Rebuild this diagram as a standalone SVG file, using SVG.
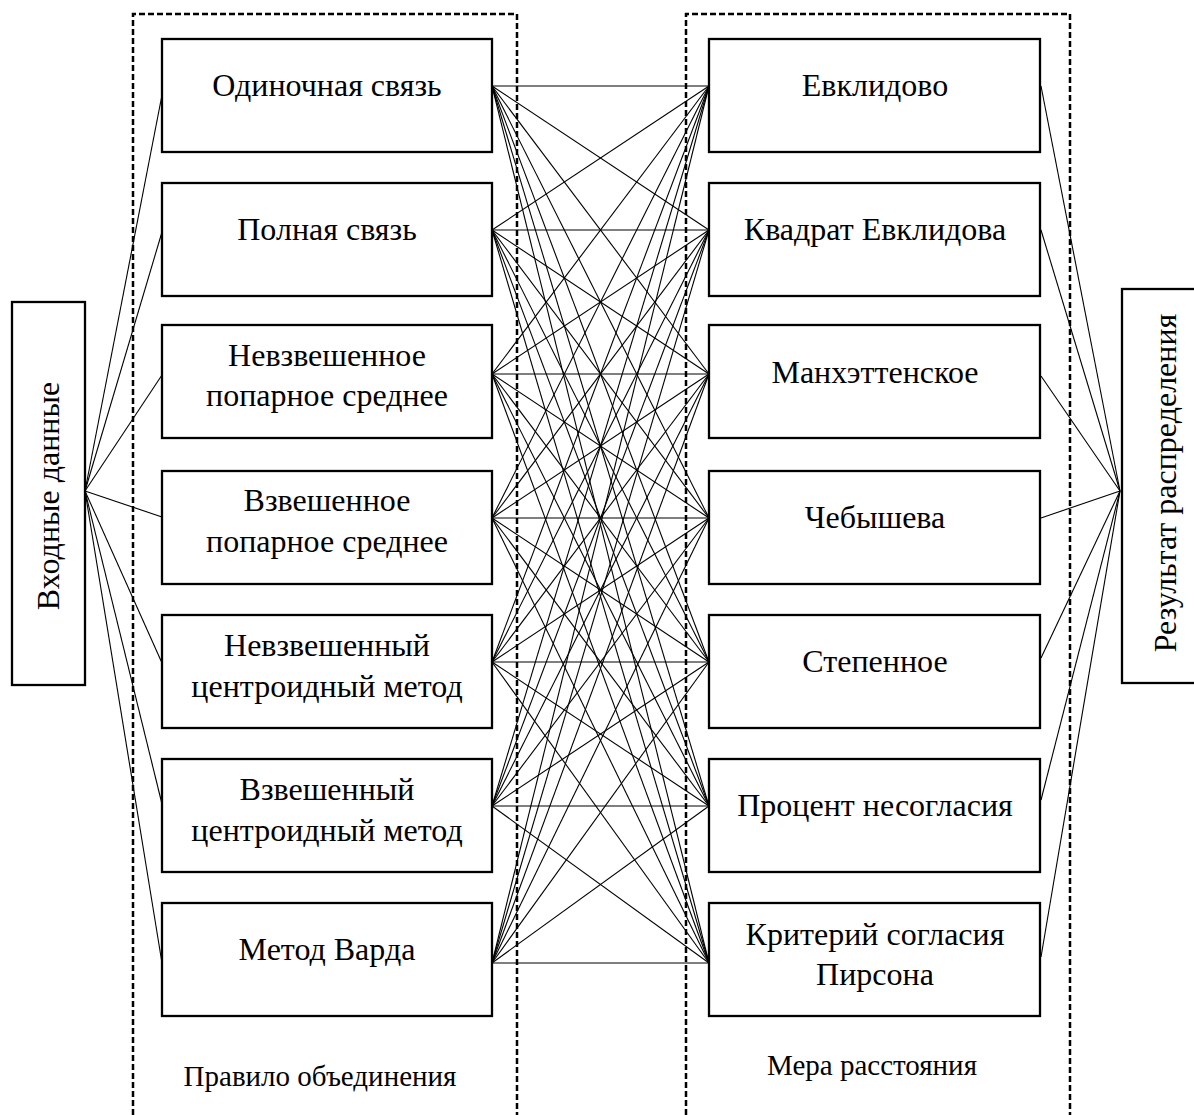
<svg xmlns="http://www.w3.org/2000/svg" width="1194" height="1115" viewBox="0 0 1194 1115">
<style>
.box{fill:#fff;stroke:#000;stroke-width:2.3}
.grp{fill:none;stroke:#000;stroke-width:2.5;stroke-dasharray:6,3}
.c line{stroke:#000;stroke-width:1.1}
text{font-family:"Liberation Serif","Times New Roman",serif;font-size:32px;fill:#000;text-anchor:middle}
.lbl{font-size:29px}
</style>
<rect width="1194" height="1115" fill="#fff"/>
<g id="group-left"><path class="grp" d="M133,1115 V14 H517 V1115"/><text class="lbl" x="320" y="1086">Правило объединения</text></g>
<g id="group-right"><path class="grp" d="M686,1115 V14 H1070 V1115"/><text class="lbl" x="872" y="1075">Мера расстояния</text></g>
<g class="c" id="connectors">
<line x1="85" y1="491" x2="162" y2="95"/>
<line x1="85" y1="491" x2="162" y2="232"/>
<line x1="85" y1="491" x2="162" y2="375"/>
<line x1="85" y1="491" x2="162" y2="517"/>
<line x1="85" y1="491" x2="162" y2="663"/>
<line x1="85" y1="491" x2="162" y2="804"/>
<line x1="85" y1="491" x2="162" y2="963"/>
<line x1="1120" y1="491" x2="1041" y2="86"/>
<line x1="1120" y1="491" x2="1041" y2="230"/>
<line x1="1120" y1="491" x2="1041" y2="376"/>
<line x1="1120" y1="491" x2="1041" y2="518"/>
<line x1="1120" y1="491" x2="1041" y2="658"/>
<line x1="1120" y1="491" x2="1041" y2="800"/>
<line x1="1120" y1="491" x2="1041" y2="957"/>
<line x1="492" y1="86" x2="709" y2="86"/><line x1="492" y1="86" x2="709" y2="230"/><line x1="492" y1="86" x2="709" y2="374"/><line x1="492" y1="86" x2="709" y2="518"/><line x1="492" y1="86" x2="709" y2="662"/><line x1="492" y1="86" x2="709" y2="806"/><line x1="492" y1="86" x2="709" y2="963"/>
<line x1="492" y1="230" x2="709" y2="86"/><line x1="492" y1="230" x2="709" y2="230"/><line x1="492" y1="230" x2="709" y2="374"/><line x1="492" y1="230" x2="709" y2="518"/><line x1="492" y1="230" x2="709" y2="662"/><line x1="492" y1="230" x2="709" y2="806"/><line x1="492" y1="230" x2="709" y2="963"/>
<line x1="492" y1="374" x2="709" y2="86"/><line x1="492" y1="374" x2="709" y2="230"/><line x1="492" y1="374" x2="709" y2="374"/><line x1="492" y1="374" x2="709" y2="518"/><line x1="492" y1="374" x2="709" y2="662"/><line x1="492" y1="374" x2="709" y2="806"/><line x1="492" y1="374" x2="709" y2="963"/>
<line x1="492" y1="518" x2="709" y2="86"/><line x1="492" y1="518" x2="709" y2="230"/><line x1="492" y1="518" x2="709" y2="374"/><line x1="492" y1="518" x2="709" y2="518"/><line x1="492" y1="518" x2="709" y2="662"/><line x1="492" y1="518" x2="709" y2="806"/><line x1="492" y1="518" x2="709" y2="963"/>
<line x1="492" y1="662" x2="709" y2="86"/><line x1="492" y1="662" x2="709" y2="230"/><line x1="492" y1="662" x2="709" y2="374"/><line x1="492" y1="662" x2="709" y2="518"/><line x1="492" y1="662" x2="709" y2="662"/><line x1="492" y1="662" x2="709" y2="806"/><line x1="492" y1="662" x2="709" y2="963"/>
<line x1="492" y1="806" x2="709" y2="86"/><line x1="492" y1="806" x2="709" y2="230"/><line x1="492" y1="806" x2="709" y2="374"/><line x1="492" y1="806" x2="709" y2="518"/><line x1="492" y1="806" x2="709" y2="662"/><line x1="492" y1="806" x2="709" y2="806"/><line x1="492" y1="806" x2="709" y2="963"/>
<line x1="492" y1="963" x2="709" y2="86"/><line x1="492" y1="963" x2="709" y2="230"/><line x1="492" y1="963" x2="709" y2="374"/><line x1="492" y1="963" x2="709" y2="518"/><line x1="492" y1="963" x2="709" y2="662"/><line x1="492" y1="963" x2="709" y2="806"/><line x1="492" y1="963" x2="709" y2="963"/>
</g>
<g id="input"><rect class="box" x="12" y="302" width="73" height="383"/><text transform="translate(59,496) rotate(-90)">Входные данные</text></g>
<g id="output"><rect class="box" x="1122" y="289" width="80" height="394"/><text transform="translate(1176,483) rotate(-90)">Результат распределения</text></g>
<g id="l1"><rect class="box" x="162" y="39" width="330" height="113"/><text x="327" y="96">Одиночная связь</text></g>
<g id="l2"><rect class="box" x="162" y="183" width="330" height="113"/><text x="327" y="240">Полная связь</text></g>
<g id="l3"><rect class="box" x="162" y="325" width="330" height="113"/><text x="327" y="366">Невзвешенное</text><text x="327" y="406">попарное среднее</text></g>
<g id="l4"><rect class="box" x="162" y="471" width="330" height="113"/><text x="327" y="511">Взвешенное</text><text x="327" y="552">попарное среднее</text></g>
<g id="l5"><rect class="box" x="162" y="615" width="330" height="113"/><text x="327" y="656">Невзвешенный</text><text x="327" y="697">центроидный метод</text></g>
<g id="l6"><rect class="box" x="162" y="759" width="330" height="113"/><text x="327" y="800">Взвешенный</text><text x="327" y="841">центроидный метод</text></g>
<g id="l7"><rect class="box" x="162" y="903" width="330" height="113"/><text x="327" y="960">Метод Варда</text></g>
<g id="r1"><rect class="box" x="709" y="39" width="331" height="113"/><text x="875" y="96">Евклидово</text></g>
<g id="r2"><rect class="box" x="709" y="183" width="331" height="113"/><text x="875" y="240">Квадрат Евклидова</text></g>
<g id="r3"><rect class="box" x="709" y="325" width="331" height="113"/><text x="875" y="383">Манхэттенское</text></g>
<g id="r4"><rect class="box" x="709" y="471" width="331" height="113"/><text x="875" y="528">Чебышева</text></g>
<g id="r5"><rect class="box" x="709" y="615" width="331" height="113"/><text x="875" y="672">Степенное</text></g>
<g id="r6"><rect class="box" x="709" y="759" width="331" height="113"/><text x="875" y="816">Процент несогласия</text></g>
<g id="r7"><rect class="box" x="709" y="903" width="331" height="113"/><text x="875" y="945">Критерий согласия</text><text x="875" y="985">Пирсона</text></g>
</svg>
